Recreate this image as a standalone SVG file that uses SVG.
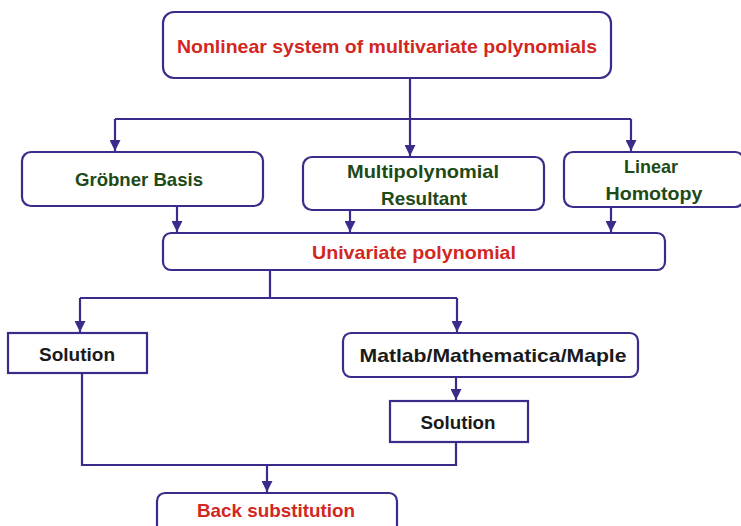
<svg xmlns="http://www.w3.org/2000/svg" width="741" height="526" viewBox="0 0 741 526">
<defs>
<style>
.box{fill:#fff;stroke:#3b2c8c;stroke-width:2.2}
.ln{fill:none;stroke:#3b2c8c;stroke-width:2.2}
.t{font-family:"Liberation Sans",Arial,sans-serif;font-weight:bold;font-size:19px}
.red{fill:#d2271f}
.grn{fill:#1e4a17}
.blk{fill:#1a1a1a}
</style>
<marker id="ah" viewBox="0 0 10 10" refX="10" refY="5" markerWidth="11" markerHeight="11" markerUnits="userSpaceOnUse" orient="auto">
<path d="M0,0 L10,5 L0,10 Z" fill="#3b2c8c"/>
</marker>
</defs>
<rect width="741" height="526" fill="#fff"/>
<g id="connectors">
<path class="ln" d="M410,78 V119"/>
<path class="ln" d="M115,119 H631"/>
<path class="ln" d="M115,119 V151" marker-end="url(#ah)"/>
<path class="ln" d="M410,119 V156" marker-end="url(#ah)"/>
<path class="ln" d="M631,119 V151" marker-end="url(#ah)"/>
<path class="ln" d="M177,206 V232" marker-end="url(#ah)"/>
<path class="ln" d="M350,210 V232" marker-end="url(#ah)"/>
<path class="ln" d="M611,207 V232" marker-end="url(#ah)"/>
<path class="ln" d="M270,267 V298"/>
<path class="ln" d="M80,298 H457"/>
<path class="ln" d="M80,298 V332" marker-end="url(#ah)"/>
<path class="ln" d="M457,298 V332" marker-end="url(#ah)"/>
<path class="ln" d="M456,377 V400" marker-end="url(#ah)"/>
<path class="ln" d="M82,373 V465 H456 V442"/>
<path class="ln" d="M267,465 V492" marker-end="url(#ah)"/>
</g>
<g id="n-nonlinear">
<rect class="box" x="163" y="12" width="448" height="66" rx="11"/>
<text class="t red" x="387" y="53" text-anchor="middle" textLength="420" lengthAdjust="spacingAndGlyphs">Nonlinear system of multivariate polynomials</text>
</g>
<g id="n-grobner">
<rect class="box" x="22" y="152" width="241" height="54" rx="9"/>
<text class="t grn" x="139" y="186" text-anchor="middle" textLength="128" lengthAdjust="spacingAndGlyphs">Gröbner Basis</text>
</g>
<g id="n-multi">
<rect class="box" x="303" y="157" width="241" height="53" rx="9"/>
<text class="t grn" x="423" y="178" text-anchor="middle" textLength="152" lengthAdjust="spacingAndGlyphs">Multipolynomial</text>
<text class="t grn" x="424" y="205" text-anchor="middle" textLength="86" lengthAdjust="spacingAndGlyphs">Resultant</text>
</g>
<g id="n-linear">
<rect class="box" x="564" y="152" width="180" height="55" rx="9"/>
<text class="t grn" x="651" y="173" text-anchor="middle" textLength="54" lengthAdjust="spacingAndGlyphs">Linear</text>
<text class="t grn" x="654" y="200" text-anchor="middle" textLength="97" lengthAdjust="spacingAndGlyphs">Homotopy</text>
</g>
<g id="n-univariate">
<rect class="box" x="163" y="233" width="502" height="37" rx="8"/>
<text class="t red" x="414" y="259" text-anchor="middle" textLength="204" lengthAdjust="spacingAndGlyphs">Univariate polynomial</text>
</g>
<g id="n-solution1">
<rect class="box" x="8" y="333" width="139" height="40"/>
<text class="t blk" x="77" y="361" text-anchor="middle" textLength="76" lengthAdjust="spacingAndGlyphs">Solution</text>
</g>
<g id="n-matlab">
<rect class="box" x="343" y="333" width="295" height="44" rx="8"/>
<text class="t blk" x="493" y="362" text-anchor="middle" textLength="267" lengthAdjust="spacingAndGlyphs">Matlab/Mathematica/Maple</text>
</g>
<g id="n-solution2">
<rect class="box" x="390" y="401" width="138" height="41"/>
<text class="t blk" x="458" y="429" text-anchor="middle" textLength="75" lengthAdjust="spacingAndGlyphs">Solution</text>
</g>
<g id="n-back">
<rect class="box" x="157" y="493" width="240" height="45" rx="8"/>
<text class="t red" x="276" y="517" text-anchor="middle" textLength="158" lengthAdjust="spacingAndGlyphs">Back substitution</text>
</g>
</svg>
